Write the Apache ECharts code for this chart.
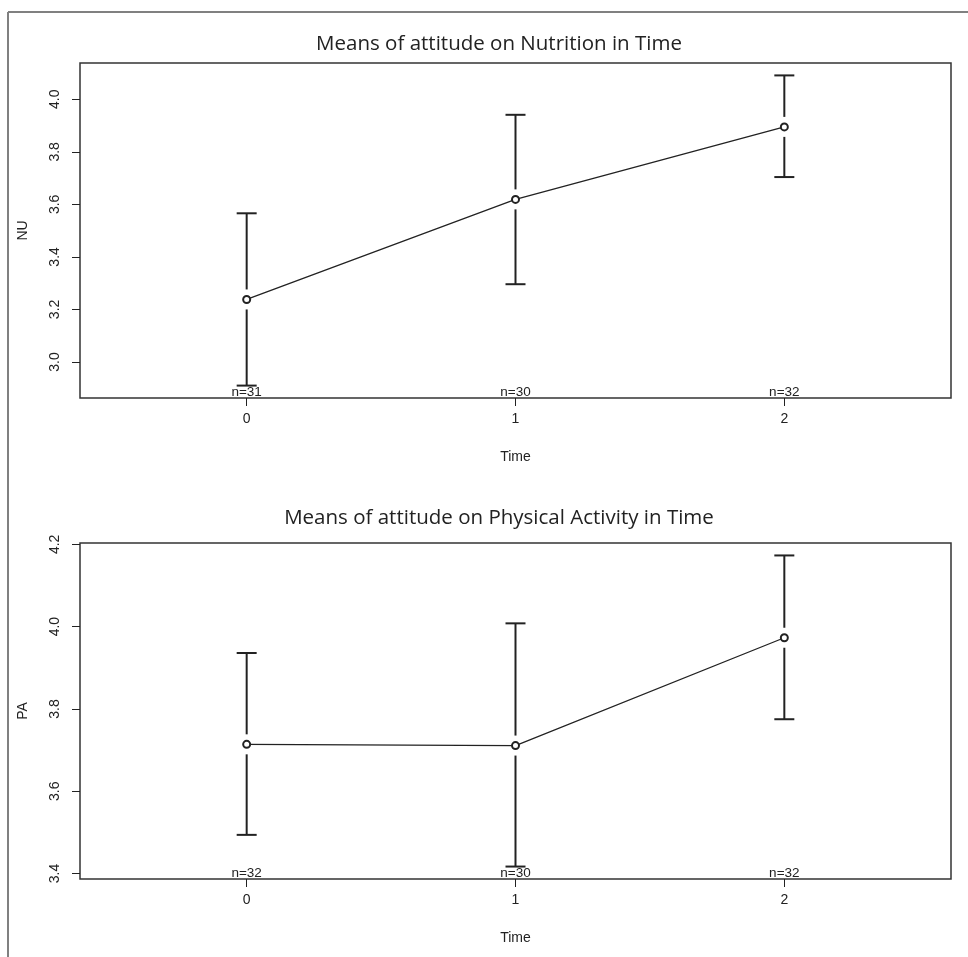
<!DOCTYPE html>
<html>
<head>
<meta charset="utf-8">
<script src="https://cdn.jsdelivr.net/npm/echarts@6/dist/echarts.min.js"></script>
<style>
  html, body { margin: 0; padding: 0; background: #fff; }
  #main { width: 968px; height: 957px; }
</style>
</head>
<body>
<div id="main"></div>
<script>
// 数据
var times = [0, 1, 2];
var timeTicks = [0, 1, 2];

var nuMeans = [3.238, 3.619, 3.895];
var nuLower = [2.910, 3.296, 3.704];
var nuUpper = [3.566, 3.941, 4.091];
var nuN = [31, 30, 32];
var nuTicks = [3.0, 3.2, 3.4, 3.6, 3.8, 4.0];

var paMeans = [3.714, 3.711, 3.973];
var paLower = [3.494, 3.417, 3.775];
var paUpper = [3.936, 4.008, 4.173];
var paN = [32, 30, 32];
var paTicks = [3.4, 3.6, 3.8, 4.0, 4.2];

var titles = ["Means of attitude on Nutrition in Time", "Means of attitude on Physical Activity in Time"];

var ink = "#222";
var axisFont = "Liberation Sans";

// R 风格的范围：数据两侧各扩 4%
function rRange(lo, hi) {
  var a = Math.min.apply(null, lo), b = Math.max.apply(null, hi);
  var d = (b - a) * 0.04;
  return [a - d, b + d];
}
var xRange = rRange([-0.5], [2.5]);
var nuRange = rRange(nuLower, nuUpper);
var paRange = rRange(paLower, paUpper);

function rows(means, lower, upper, ns) {
  return times.map(function (t, i) {
    return [t, lower[i], upper[i], means[i], ns[i]];
  });
}

function errorBars(params, api) {
  var x = api.value(0);
  var pl = api.coord([x, api.value(1)]);
  var ph = api.coord([x, api.value(2)]);
  var pm = api.coord([x, api.value(3)]);
  var gap = 10, cap = 10;
  var st = { stroke: ink, lineWidth: 2 };
  return {
    type: "group",
    children: [
      { type: "line", shape: { x1: pm[0], y1: ph[1], x2: pm[0], y2: pm[1] - gap }, style: st },
      { type: "line", shape: { x1: pm[0], y1: pm[1] + gap, x2: pm[0], y2: pl[1] }, style: st },
      { type: "line", shape: { x1: pm[0] - cap, y1: ph[1], x2: pm[0] + cap, y2: ph[1] }, style: st },
      { type: "line", shape: { x1: pm[0] - cap, y1: pl[1], x2: pm[0] + cap, y2: pl[1] }, style: st }
    ]
  };
}

function nLabels(yMin) {
  return function (params, api) {
    var p = api.coord([api.value(0), yMin]);
    return {
      type: "text",
      x: p[0],
      y: p[1] + 1,
      style: {
        text: "n=" + api.value(4),
        align: "center",
        verticalAlign: "bottom",
        font: "13.5px '" + axisFont + "'",
        fill: ink
      }
    };
  };
}

function xAxisOf(idx) {
  return {
    type: "value",
    gridIndex: idx,
    min: xRange[0],
    max: xRange[1],
    name: "Time",
    nameLocation: "middle",
    nameGap: 52,
    nameTextStyle: { fontFamily: axisFont, fontSize: 14, color: ink },
    axisLine: { show: false, onZero: false },
    splitLine: { show: false },
    axisTick: { show: true, length: 8, customValues: timeTicks, lineStyle: { color: ink, width: 1 } },
    axisLabel: { customValues: timeTicks, margin: 14, fontFamily: axisFont, fontSize: 14, color: ink }
  };
}

function yAxisOf(idx, range, ticks, name) {
  return {
    type: "value",
    gridIndex: idx,
    min: range[0],
    max: range[1],
    name: name,
    nameLocation: "middle",
    nameGap: 50,
    nameRotate: 90,
    nameTextStyle: { fontFamily: axisFont, fontSize: 14, color: ink },
    axisLine: { show: false, onZero: false },
    splitLine: { show: false },
    axisTick: { show: true, length: 8, customValues: ticks, lineStyle: { color: ink, width: 1 } },
    axisLabel: {
      customValues: ticks,
      rotate: 90,
      margin: 18,
      fontFamily: axisFont,
      fontSize: 14,
      color: ink,
      formatter: function (v) { return v.toFixed(1); }
    }
  };
}

function seriesOf(idx, means, lower, upper, ns, yMin) {
  var data = rows(means, lower, upper, ns);
  return [
    {
      type: "custom",
      xAxisIndex: idx,
      yAxisIndex: idx,
      renderItem: errorBars,
      data: data,
      silent: true,
      z: 2
    },
    {
      type: "line",
      xAxisIndex: idx,
      yAxisIndex: idx,
      data: times.map(function (t, i) { return [t, means[i]]; }),
      symbol: "circle",
      symbolSize: 7,
      showSymbol: true,
      lineStyle: { color: ink, width: 1.3 },
      itemStyle: { color: "#fff", borderColor: ink, borderWidth: 2 },
      animation: false,
      silent: true,
      z: 3
    },
    {
      type: "custom",
      xAxisIndex: idx,
      yAxisIndex: idx,
      renderItem: nLabels(yMin),
      data: data,
      silent: true,
      clip: false,
      z: 4
    }
  ];
}

var myChart = echarts.init(document.getElementById("main"));
myChart.setOption({
  backgroundColor: "#fff",
  animation: false,
  title: [
    {
      text: titles[0], left: 494, top: 29, textAlign: "center",
      textStyle: { fontFamily: "Open Sans", fontWeight: "normal", fontSize: 20.5, color: ink }
    },
    {
      text: titles[1], left: 494, top: 503, textAlign: "center",
      textStyle: { fontFamily: "Open Sans", fontWeight: "normal", fontSize: 20.5, color: ink }
    }
  ],
  grid: [
    { left: 80, top: 63, width: 871, height: 335, show: true, borderColor: "#333", borderWidth: 1.5, backgroundColor: "transparent" },
    { left: 80, top: 543, width: 871, height: 336, show: true, borderColor: "#333", borderWidth: 1.5, backgroundColor: "transparent" }
  ],
  xAxis: [xAxisOf(0), xAxisOf(1)],
  yAxis: [
    yAxisOf(0, nuRange, nuTicks, "NU"),
    yAxisOf(1, paRange, paTicks, "PA")
  ],
  series: seriesOf(0, nuMeans, nuLower, nuUpper, nuN, nuRange[0])
    .concat(seriesOf(1, paMeans, paLower, paUpper, paN, paRange[0])),
  graphic: [
    // 外框（左、上）
    { type: "line", shape: { x1: 8, y1: 12, x2: 8, y2: 957 }, style: { stroke: "#808080", lineWidth: 2 } },
    { type: "line", shape: { x1: 8, y1: 12, x2: 968, y2: 12 }, style: { stroke: "#808080", lineWidth: 2 } }
  ]
});
</script>
</body>
</html>
